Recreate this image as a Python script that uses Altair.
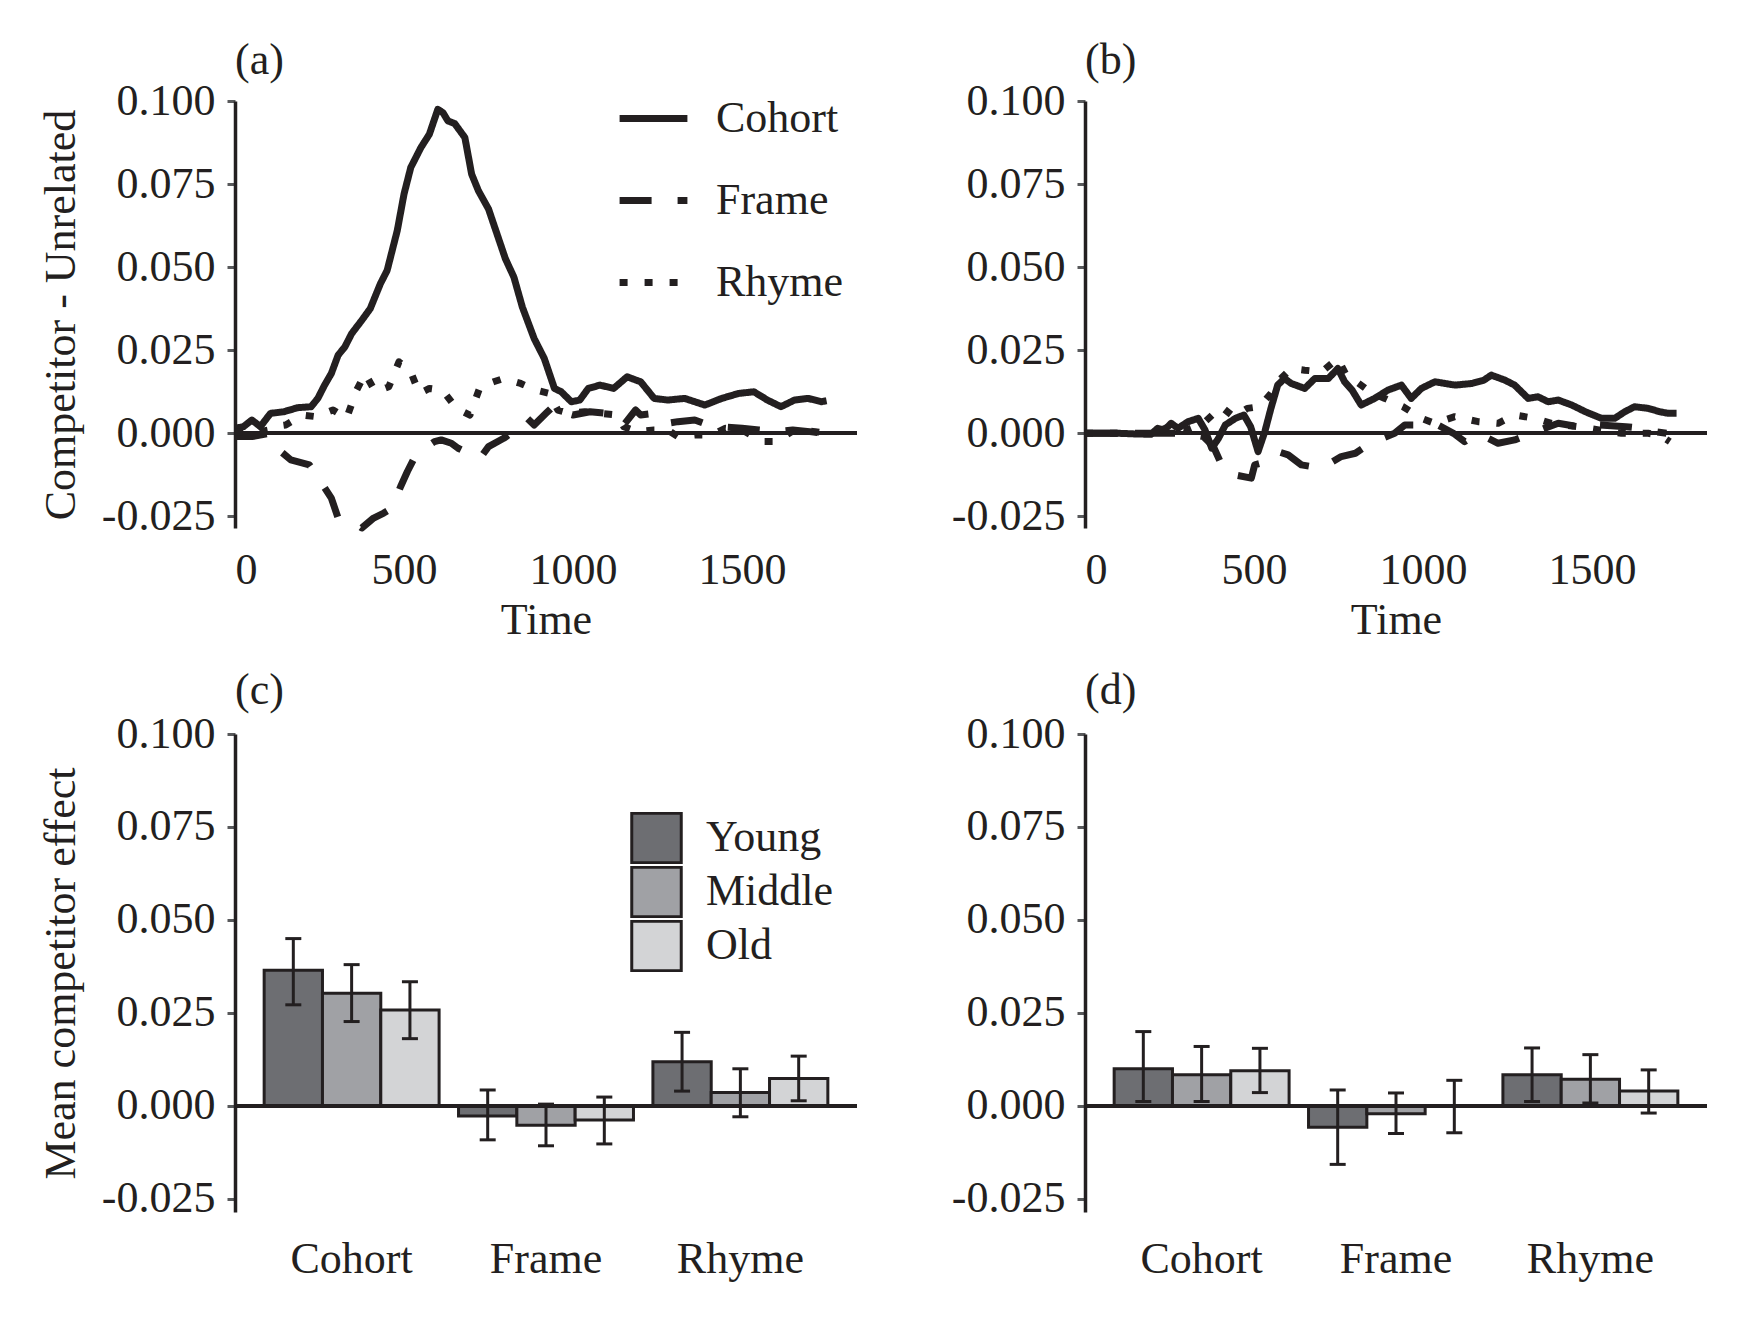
import altair as alt
import pandas as pd

FONT = "Liberation Serif"
INK = "#231f20"
FS = 44

# ---------------- Panel (a) time courses ----------------
a_cohort_t = [0, 25, 50, 75, 105, 145, 185, 225, 245, 265, 285, 305, 325, 345, 375, 400, 430, 450, 480, 500,
              520, 550, 575, 600, 615, 630, 650, 680, 700, 720, 750, 775, 800, 825, 850, 885, 915, 935, 945, 965,
              995, 1020, 1045, 1080, 1120, 1160, 1200, 1240, 1280, 1330, 1390, 1440, 1490, 1535, 1575, 1615, 1655,
              1695, 1735, 1750]
a_cohort_v = [0.0015, 0.002, 0.004, 0.002, 0.006, 0.0065, 0.0077, 0.008, 0.0105, 0.0145, 0.018, 0.0235, 0.026,
              0.030, 0.034, 0.0375, 0.045, 0.049, 0.061, 0.072, 0.080, 0.086, 0.090, 0.0975, 0.0965, 0.094, 0.0932,
              0.089, 0.078, 0.073, 0.0675, 0.060, 0.0525, 0.047, 0.038, 0.0285, 0.0225, 0.0165, 0.0135, 0.0125,
              0.0095, 0.0100, 0.0135, 0.0145, 0.0135, 0.017, 0.0155, 0.0105, 0.010, 0.0105, 0.0085, 0.0105, 0.012,
              0.0125, 0.010, 0.008, 0.010, 0.0105, 0.0095, 0.0098]

a_frame_t = [0, 50, 100, 130, 165, 220, 240, 285, 305, 330, 355, 375, 410, 440, 465, 490, 510, 530, 575, 590,
             610, 640, 660, 690, 725, 750, 795, 830, 865, 885, 920, 945, 965, 1000, 1050, 1100, 1130, 1150, 1185,
             1200, 1240, 1280, 1310, 1360, 1400, 1430, 1500, 1550, 1600, 1650, 1700, 1750]
a_frame_v = [-0.001, -0.001, 0.0, -0.005, -0.008, -0.0095, -0.0125, -0.0195, -0.0255, -0.026, -0.027, -0.0285,
             -0.0255, -0.024, -0.0225, -0.016, -0.0115, -0.0075, -0.0035, -0.0025, -0.002, -0.003, -0.0045,
             -0.006, -0.0075, -0.004, -0.0015, 0.001, 0.0045, 0.0025, 0.006, 0.0085, 0.0065, 0.0055, 0.0065,
             0.006, 0.004, 0.0025, 0.007, 0.0055, 0.006, 0.003, 0.0035, 0.004, 0.0025, 0.002, 0.0015, 0.001,
             0.0005, 0.001, 0.0005, 0.0]

a_rhyme_t = [0, 50, 100, 115, 150, 200, 240, 290, 330, 360, 385, 415, 455, 485, 520, 545, 575, 610, 625, 655,
             695, 725, 765, 795, 845, 890, 930, 955, 990, 1035, 1080, 1130, 1150, 1190, 1240, 1280, 1310, 1360,
             1410, 1450, 1500, 1560, 1600, 1655, 1715, 1750]
a_rhyme_v = [0.0005, 0.0, 0.001, 0.002, 0.0025, 0.0055, 0.005, 0.007, 0.0045, 0.013, 0.018, 0.0125, 0.014,
             0.0215, 0.0185, 0.012, 0.0135, 0.013, 0.0115, 0.0075, 0.0055, 0.014, 0.0155, 0.0165, 0.015, 0.013,
             0.012, 0.007, 0.006, 0.0065, 0.006, 0.0055, 0.002, 0.0005, 0.001, 0.001, -0.001, -0.0005, -0.0005,
             0.0015, 0.001, -0.0025, -0.0025, 0.001, 0.0005, 0.0]

# ---------------- Panel (b) time courses ----------------
b_cohort_t = [0, 50, 100, 150, 195, 215, 235, 255, 275, 305, 335, 355, 375, 395, 415, 445, 470, 490, 512, 532,
              550, 570, 590, 610, 650, 680, 720, 748, 768, 790, 817, 857, 896, 936, 965, 995, 1035, 1095, 1145,
              1180, 1202, 1242, 1271, 1311, 1340, 1370, 1400, 1440, 1480, 1528, 1567, 1597, 1626, 1666, 1700,
              1725, 1750]
b_cohort_v = [0.0, 0.0, 0.0, -0.0002, -0.0003, 0.0015, 0.001, 0.003, 0.0015, 0.0035, 0.0045, 0.001, -0.0045,
              -0.0015, 0.0025, 0.0045, 0.0055, 0.002, -0.0055, 0.0005, 0.0075, 0.0145, 0.0165, 0.015, 0.0135,
              0.0165, 0.0165, 0.0195, 0.0155, 0.013, 0.0085, 0.0105, 0.013, 0.0145, 0.0105, 0.0135, 0.0155,
              0.0145, 0.015, 0.016, 0.0175, 0.016, 0.0145, 0.0105, 0.011, 0.0095, 0.010, 0.0085, 0.0065, 0.0045,
              0.0045, 0.0065, 0.008, 0.0075, 0.0065, 0.006, 0.006]

b_frame_t = [0, 100, 200, 300, 350, 380, 413, 443, 492, 502, 540, 571, 601, 640, 699, 758, 800, 837, 867, 916,
             946, 1005, 1044, 1090, 1123, 1163, 1222, 1271, 1360, 1400, 1459, 1518, 1600, 1646, 1686, 1720]
b_frame_v = [0.0, 0.0, 0.0, 0.0, -0.001, -0.004, -0.0115, -0.0125, -0.0135, -0.0095, -0.0085, -0.0055, -0.0065,
             -0.0095, -0.0105, -0.007, -0.006, -0.0035, -0.002, 0.0, 0.0025, 0.0025, 0.0025, 0.0, -0.0025, 0.0,
             -0.003, -0.002, 0.0015, 0.003, 0.002, 0.0025, 0.002, 0.0015, 0.0005, 0.0]

b_rhyme_t = [0, 100, 200, 250, 300, 350, 403, 440, 480, 517, 550, 575, 610, 650, 700, 748, 775, 803, 850, 887,
             941, 995, 1034, 1094, 1163, 1222, 1271, 1331, 1380, 1459, 1520, 1587, 1666, 1700, 1730]
b_rhyme_v = [0.0, 0.0, 0.0, 0.002, 0.001, 0.003, 0.008, 0.005, 0.0075, 0.008, 0.012, 0.016, 0.0195, 0.019,
             0.0185, 0.0225, 0.017, 0.0155, 0.012, 0.0105, 0.008, 0.0045, 0.003, 0.005, 0.0035, 0.003, 0.0055,
             0.0045, 0.003, 0.002, 0.001, 0.0, 0.0, -0.0005, -0.0025]

# ---------------- Bar panels ----------------
conditions = ["Cohort", "Frame", "Rhyme"]
ages = ["Young", "Middle", "Old"]
age_colors = ["#6d6e72", "#a0a1a5", "#d3d4d6"]

# (c): mean, lower, upper for Young/Middle/Old within each condition
c_mean = [0.0365, 0.0303, 0.0258, -0.0027, -0.0052, -0.0038, 0.0119, 0.0036, 0.0074]
c_lo = [0.0272, 0.0227, 0.0181, -0.0091, -0.0107, -0.0102, 0.0040, -0.0029, 0.0014]
c_hi = [0.0450, 0.0380, 0.0334, 0.0043, 0.0005, 0.0024, 0.0198, 0.0100, 0.0134]
# (d)
d_mean = [0.0100, 0.0084, 0.0095, -0.0057, -0.0021, -0.0001, 0.0084, 0.0072, 0.0040]
d_lo = [0.0012, 0.0012, 0.0036, -0.0157, -0.0074, -0.0072, 0.0012, 0.0008, -0.0019]
d_hi = [0.0200, 0.0160, 0.0155, 0.0043, 0.0035, 0.0069, 0.0156, 0.0138, 0.0097]

YTICKS = [-0.025, 0, 0.025, 0.05, 0.075, 0.1]
YDOM = [-0.0285, 0.1]
LABEL_EXPR = "datum.value < 0 ? '-' + format(-datum.value, '.3f') : format(datum.value, '.3f')"


def lines_df(parts):
    frames = []
    for name, t, v in parts:
        frames.append(pd.DataFrame({"Time": t, "value": v, "series": name}))
    return pd.concat(frames, ignore_index=True)


def bars_df(mean, lo, hi):
    rows = []
    i = 0
    for c in conditions:
        for a in ages:
            rows.append({"cond": c, "age": a, "mean": mean[i], "lo": lo[i], "hi": hi[i]})
            i += 1
    return pd.DataFrame(rows)


def y_axis(title):
    return alt.Axis(values=YTICKS, labelExpr=LABEL_EXPR, title=title, grid=False,
                    domainColor=INK, domainWidth=3.5, tickColor="#58595b", tickWidth=3, tickSize=8,
                    labelPadding=12, titlePadding=18, labelFont=FONT, labelFontSize=FS, labelColor=INK,
                    titleFont=FONT, titleFontSize=FS, titleFontWeight="normal", titleColor=INK)


def panel_title(txt, off):
    return alt.TitleParams(txt, anchor="start", frame="group", font=FONT, fontSize=FS,
                           fontWeight="normal", color=INK, offset=off)


def line_panel(df, label, ytitle, show_legend):
    dscale = alt.Scale(domain=conditions, range=[[1, 0], [32, 26], [8, 17]])
    if show_legend:
        dash = alt.StrokeDash("series:N", scale=dscale,
                              legend=alt.Legend(title=None, orient="none", legendX=381, legendY=-20,
                                                symbolType="stroke", symbolSize=4600, symbolStrokeWidth=7,
                                                symbolStrokeColor=INK, labelFont=FONT, labelFontSize=FS,
                                                labelColor=INK, labelOffset=25, rowPadding=22, padding=0))
    else:
        dash = alt.StrokeDash("series:N", scale=dscale, legend=None)
    x = alt.X("Time:Q", scale=alt.Scale(domain=[0, 1840], nice=False, zero=False),
              axis=alt.Axis(values=[0, 500, 1000, 1500], format="d", title="Time", domain=False, ticks=False,
                            grid=False, labelPadding=20, titlePadding=6, labelFont=FONT, labelFontSize=FS,
                            labelColor=INK, titleFont=FONT, titleFontSize=FS, titleFontWeight="normal",
                            titleColor=INK))
    y = alt.Y("value:Q", scale=alt.Scale(domain=YDOM, nice=False, zero=False), axis=y_axis(ytitle))
    lines = alt.Chart(df).mark_line(strokeWidth=7, color=INK, strokeJoin="round").encode(
        x=x, y=y, strokeDash=dash)
    zero = alt.Chart(df).mark_rule(color=INK, strokeWidth=3).encode(y=alt.datum(0))
    return alt.layer(zero, lines).properties(width=622, height=427, title=panel_title(label, -4))


def bar_panel(df, label, ytitle, show_legend):
    fscale = alt.Scale(domain=ages, range=age_colors)
    if show_legend:
        fill = alt.Fill("age:N", sort=ages, scale=fscale,
                        legend=alt.Legend(title=None, orient="none", legendX=395, legendY=78,
                                          symbolType="square", symbolSize=2450, symbolStrokeColor=INK,
                                          symbolStrokeWidth=3, symbolOpacity=1, labelFont=FONT, labelFontSize=FS,
                                          labelColor=INK, labelOffset=23, clipHeight=52, rowPadding=2,
                                          padding=0))
    else:
        fill = alt.Fill("age:N", sort=ages, scale=fscale, legend=None)
    x = alt.X("cond:N", sort=conditions, scale=alt.Scale(paddingInner=0.1, paddingOuter=0.15),
              axis=alt.Axis(title=None, domain=False, ticks=False, labelAngle=0, labelPadding=25,
                            labelFont=FONT, labelFontSize=FS, labelColor=INK))
    xo = alt.XOffset("age:N", sort=ages, scale=alt.Scale(paddingInner=0, paddingOuter=0))
    yscale = alt.Scale(domain=YDOM, nice=False, zero=False)
    bars = alt.Chart(df).mark_bar(stroke=INK, strokeWidth=3, opacity=1).encode(
        x=x, xOffset=xo, y=alt.Y("mean:Q", scale=yscale, axis=y_axis(ytitle)), fill=fill)
    zero = alt.Chart(df).mark_rule(color=INK, strokeWidth=3).encode(y=alt.datum(0))
    err = alt.Chart(df).mark_rule(color=INK, strokeWidth=3).encode(
        x=alt.X("cond:N", sort=conditions), xOffset=xo, y=alt.Y("lo:Q", scale=yscale), y2="hi:Q")
    cap_lo = alt.Chart(df).mark_tick(color=INK, thickness=3, size=16, opacity=1).encode(
        x=alt.X("cond:N", sort=conditions), xOffset=xo, y=alt.Y("lo:Q", scale=yscale))
    cap_hi = alt.Chart(df).mark_tick(color=INK, thickness=3, size=16, opacity=1).encode(
        x=alt.X("cond:N", sort=conditions), xOffset=xo, y=alt.Y("hi:Q", scale=yscale))
    return alt.layer(bars, zero, err, cap_lo, cap_hi).properties(width=622, height=478,
                                                                  title=panel_title(label, -1))


df_a = lines_df([("Cohort", a_cohort_t, a_cohort_v), ("Frame", a_frame_t, a_frame_v), ("Rhyme", a_rhyme_t, a_rhyme_v)])
df_b = lines_df([("Cohort", b_cohort_t, b_cohort_v), ("Frame", b_frame_t, b_frame_v), ("Rhyme", b_rhyme_t, b_rhyme_v)])
df_c = bars_df(c_mean, c_lo, c_hi)
df_d = bars_df(d_mean, d_lo, d_hi)

pa = line_panel(df_a, "(a)", "Competitor - Unrelated", True)
pb = line_panel(df_b, "(b)", None, False)
pc = bar_panel(df_c, "(c)", "Mean competitor effect", True)
pd_ = bar_panel(df_d, "(d)", None, False)

top = alt.hconcat(pa, pb, spacing=92).resolve_scale(strokeDash="independent").resolve_legend(strokeDash="independent")
bottom = alt.hconcat(pc, pd_, spacing=92).resolve_scale(fill="independent").resolve_legend(fill="independent")

chart = alt.vconcat(top, bottom, spacing=27).resolve_scale(
    strokeDash="independent", fill="independent").resolve_legend(
    strokeDash="independent", fill="independent").properties(
    padding={"left": 31, "top": 31, "right": 10, "bottom": 10}
).configure(font=FONT, background="white", view=alt.ViewConfig(stroke="transparent", strokeWidth=0))

chart.save("out.html", embed_options={"renderer": "svg", "actions": False})
